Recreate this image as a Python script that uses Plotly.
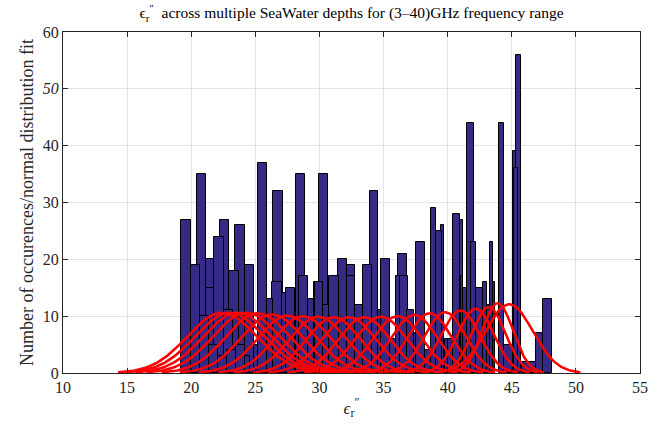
import numpy as np
import plotly.graph_objects as go

# ---- histogram bins (left edge, right edge, count) ----
bin_left = [19.23, 19.98, 20.42, 20.65, 21.15, 21.15, 21.74, 22.21, 22.52, 22.97,
            23.41, 24.19, 21.36, 22.09, 22.79, 23.46, 24.19, 24.91, 25.20, 25.93,
            26.39, 26.32, 27.07, 27.41, 28.19, 28.40, 29.14, 29.59, 29.98, 29.67,
            30.31, 30.78, 31.48, 32.13, 32.13, 32.80, 33.38, 33.95, 34.55, 34.81,
            35.51, 35.97, 36.15, 36.26, 36.83, 37.35, 37.55, 38.23, 38.68, 39.07,
            39.48, 39.79, 40.05, 40.44, 40.96, 41.01, 41.21, 41.48, 41.81, 42.20,
            42.77, 43.08, 43.29, 43.50, 43.97, 44.38, 45.06, 45.20, 45.34, 45.76,
            46.88, 47.45]
bin_right = [19.98, 20.65, 21.15, 21.36, 21.74, 21.80, 22.52, 22.97, 23.22, 23.69,
             24.19, 24.91, 22.09, 22.79, 23.46, 24.19, 24.60, 25.20, 25.93, 26.39,
             27.12, 27.07, 27.41, 28.13, 28.89, 29.14, 29.59, 30.05, 30.65, 30.31,
             30.78, 31.53, 32.13, 32.78, 32.80, 33.38, 34.13, 34.55, 34.81, 35.51,
             35.97, 36.26, 36.83, 36.93, 37.35, 37.55, 38.23, 38.68, 39.07, 39.58,
             39.74, 40.05, 40.44, 40.96, 41.21, 41.21, 41.48, 42.07, 42.18, 42.73,
             43.08, 43.29, 43.50, 43.68, 44.38, 45.06, 45.32, 45.50, 45.71, 46.88,
             47.45, 48.10]
counts = [27, 19, 35, 10, 20, 15, 24, 27, 11, 18,
          26, 19, 5, 3, 4, 5, 3, 5, 37, 13,
          32, 16, 14, 15, 35, 17, 13, 16, 35, 16,
          12, 17, 20, 19, 17, 12, 19, 32, 11, 20,
          6, 17, 21, 17, 11, 7, 23, 4, 29, 25,
          26, 6, 6, 28, 27, 17, 15, 44, 23, 15,
          16, 12, 23, 16, 44, 5, 39, 36, 56, 2,
          7, 13]

# ---- normal distribution fits (mean, sigma, peak height) ----
fit_mean = [22.4, 23.0, 23.6, 24.3, 25.2, 26.3, 27.5, 28.7, 29.9, 31.1, 32.3,
            33.5, 34.8, 36.1, 37.4, 38.6, 39.8, 41.0, 42.2, 43.2, 43.9, 44.8]
fit_sigma = [2.7, 2.7, 2.65, 2.6, 2.5, 2.4, 2.3, 2.2, 2.2, 2.1, 2.1,
             2.0, 2.0, 1.9, 1.8, 1.7, 1.6, 1.5, 1.4, 1.3, 1.2, 1.85]
fit_peak = [10.6, 10.6, 10.6, 10.6, 10.5, 10.3, 10.1, 10.0, 9.9, 9.8, 9.8,
            9.8, 9.9, 10.0, 10.2, 10.5, 10.7, 11.0, 11.3, 11.6, 12.3, 12.1]

x_ticks = [10, 15, 20, 25, 30, 35, 40, 45, 50, 55]
y_ticks = [0, 10, 20, 30, 40, 50, 60]
y_tick_text = ["0", "10", "20", "30", "40", "<i>50</i>", "60"]

FONT = "Liberation Serif"
BAR_COLOR = "rgb(53,43,132)"
AX = "#262626"

# draw taller bars first so shorter (later) bars sit in front
order = np.argsort(-np.array(counts), kind="stable")
L = np.array(bin_left)[order]
R = np.array(bin_right)[order]
C = np.array(counts)[order]

fig = go.Figure()
fig.add_trace(go.Bar(
    x=(L + R) / 2, y=C, width=R - L,
    marker=dict(color=BAR_COLOR, line=dict(color="black", width=1)),
    showlegend=False, hoverinfo="skip"))

for mu, sd, pk in zip(fit_mean, fit_sigma, fit_peak):
    xs = np.linspace(mu - 3 * sd, mu + 3 * sd, 100)
    ys = pk * np.exp(-0.5 * ((xs - mu) / sd) ** 2)
    fig.add_trace(go.Scatter(x=xs, y=ys, mode="lines",
                             line=dict(color="red", width=2.5),
                             showlegend=False, hoverinfo="skip"))

axis_common = dict(
    showline=True, linecolor=AX, linewidth=1, mirror="ticks",
    ticks="inside", ticklen=5, tickcolor=AX,
    showgrid=True, gridcolor="#e3e3e3", gridwidth=1, zeroline=False,
    tickfont=dict(family=FONT, size=16, color=AX),
)

fig.update_layout(
    width=659, height=425,
    margin=dict(l=63, r=19, t=32, b=52),
    paper_bgcolor="white", plot_bgcolor="white",
    barmode="overlay", bargap=0,
    title=dict(text="ϵ<sub>r</sub><sup>″</sup>  across multiple SeaWater depths for (3–40)GHz frequency range",
               x=0.5, xref="paper", xanchor="center",
               y=1 - 13 / 425, yref="container", yanchor="middle",
               font=dict(family=FONT, size=15.5, color="black")),
    xaxis=dict(range=[10, 55], tickvals=x_ticks,
               title=dict(text="<i>ϵ</i><sub>r</sub><sup>″</sup>", standoff=6,
                          font=dict(family=FONT, size=17, color=AX)),
               **axis_common),
    yaxis=dict(range=[0, 60], tickvals=y_ticks, ticktext=y_tick_text,
               title=dict(text="Number of occurences/normal distribution fit", standoff=4,
                          font=dict(family=FONT, size=18, color=AX)),
               **axis_common),
)

fig.write_html("out.html")
